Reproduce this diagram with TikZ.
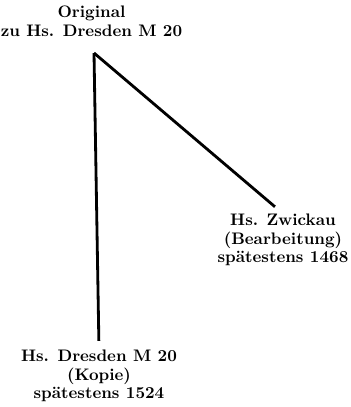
\documentclass[tikz,border=0pt]{standalone}
\usepackage{tikz}
\usetikzlibrary{positioning, calc}

\begin{document}
\begin{tikzpicture}[
    witness/.style={align=center, inner sep=0pt, font=\bfseries\fontsize{9.5}{10.6}\selectfont},
    stemma/.style={line width=1.6pt, black},
  ]
    \useasboundingbox (0, 0) rectangle (7, -8.14);

    \node[witness] (orig) at (1.83, -0.42) {Original\\zu Hs. Dresden M 20};
    \coordinate (apex) at (1.88, -1.06);

    \node[witness] (zwickau) at (5.66, -4.8) {Hs. Zwickau\\(Bearbeitung)\\sp\"atestens 1468};
    \node[witness] (kopie) at (1.98, -7.52) {Hs. Dresden M 20\\(Kopie)\\sp\"atestens 1524};

    \draw[stemma, shorten >=6pt] (apex) -- (zwickau.north);
    \draw[stemma, shorten >=5pt] (apex) -- (kopie.north);

\end{tikzpicture}
\end{document}
